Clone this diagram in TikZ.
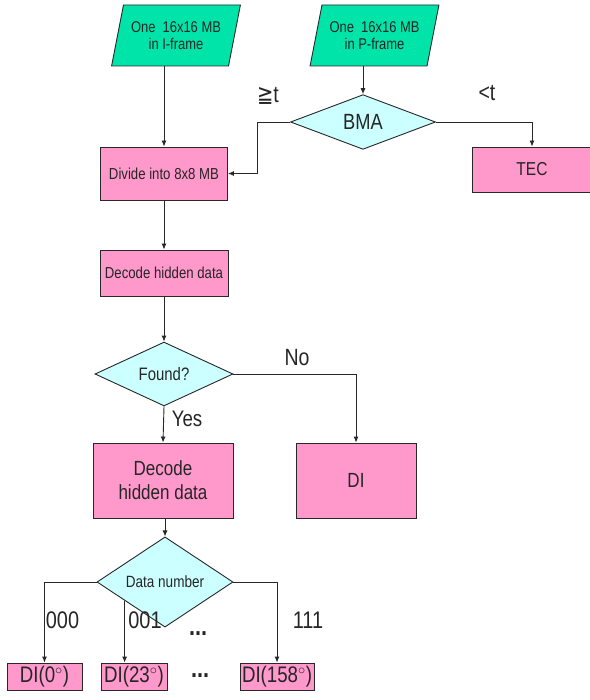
\documentclass[tikz,border=0pt]{standalone}
\usepackage{fontspec}
\setmainfont{Liberation Sans}[FakeStretch=0.83]
\newfontfamily\symfont{DejaVu Sans}[FakeStretch=0.83]
\usetikzlibrary{shapes.geometric,arrows.meta,calc}
\definecolor{pgreen}{RGB}{0,228,170}
\definecolor{dcyan}{RGB}{204,255,255}
\definecolor{bpink}{RGB}{255,153,204}
\definecolor{edge}{RGB}{40,40,40}
\newcommand{\fs}[1]{\fontsize{#1}{#1}\selectfont}
\tikzset{
  base/.style={draw=edge, line width=0.9pt, inner sep=0pt, align=center, text=black!85},
  para/.style={base, fill=pgreen, trapezium, trapezium left angle=70, trapezium right angle=110,
     trapezium stretches=true, minimum width=129pt, minimum height=61pt, font=\fontsize{15.6}{17}\selectfont},
  dia/.style={base, fill=dcyan, diamond},
  boxp/.style={base, fill=bpink, rectangle},
  arr/.style={draw=edge, line width=0.9pt, -{Latex[length=6pt,width=5pt]}},
  lab/.style={inner sep=0pt, text=black!85, font=\fs{23.5}},
}
\begin{document}
\begin{tikzpicture}[x=1pt,y=-1pt]
\useasboundingbox (0,0) rectangle (589,700);
\fill[white] (0,0) rectangle (589,700);

\node[para] (iframe) at (176,35.5) {One \ 16x16 MB\\in I-frame};
\node[para] (pframe) at (374.5,35.5) {One \ 16x16 MB\\in P-frame};

\node[dia, minimum width=145pt, minimum height=50pt, font=\fs{22}] (bma) at (363,122) {BMA};
\node[boxp, minimum width=120pt, minimum height=45pt, font=\fs{18.7}] (tec) at (532,169.5) {TEC};

\node[boxp, minimum width=127pt, minimum height=53pt, font=\fs{15.9}] (divide) at (164,173.5) {Divide into 8x8 MB};
\node[boxp, minimum width=128pt, minimum height=46pt, font=\fs{15.9}] (dec1) at (164,273) {Decode hidden data};

\node[dia, minimum width=138pt, minimum height=52pt, font=\fs{18}] (found) at (164,374) {Found?};

\node[boxp, minimum width=140pt, minimum height=75pt, font=\fontsize{20.5}{24}\selectfont] (dec2) at (163,480.5) {Decode\\hidden data};
\node[boxp, minimum width=120pt, minimum height=75pt, font=\fs{20.5}] (di) at (356,480.5) {DI};

\node[dia, minimum width=136pt, minimum height=52pt, font=\fs{16.3}] (datanum) at (165,582) {Data number};

\node[boxp, minimum width=75pt, minimum height=27pt, font=\fs{22.5}] (di0) at (44.5,676.5) {DI(0$^{\circ}$)};
\node[boxp, minimum width=66pt, minimum height=27pt, font=\fs{22.5}] (di23) at (134,676.5) {DI(23$^{\circ}$)};
\node[boxp, minimum width=74pt, minimum height=27pt, font=\fs{22.5}] (di158) at (277,676.5) {DI(158$^{\circ}$)};

% connectors
\draw[arr] (iframe.bottom side -| divide.north) -- (divide.north);
\draw[arr] (pframe.bottom side -| bma.north) -- (bma.north);
\draw[arr] (bma.west) -- ++(-33,0) |- (divide.east);
\draw[arr] (bma.east) -| (tec.north);
\draw[arr] (divide.south) -- (dec1.north);
\draw[arr] (dec1.south) -- (found.north);
\draw[arr] (found.east) -| (di.north);
\draw[arr] (found.south) -- (dec2.north);
\draw[arr] (dec2.south -| datanum.north) -- (datanum.north);
\draw[arr] (datanum.west) -| (di0.north);
\coordinate (mid) at ($(datanum.west)!0.41!(datanum.south)$);
\draw[arr] (mid) -- (mid |- di23.north);
\draw[arr] (datanum.east) -| (di158.north);

% labels
\node[lab] (lge) at (268,96) {{\symfont ≧}t};
\node[lab] (llt) at (487,93) {<t};
\node[lab] (lno) at (297,358) {No};
\node[lab, font=\fs{22.5}] (lyes) at (187,419) {Yes};
\node[lab, font=\fs{24}] (l000) at (62.5,620) {000};
\node[lab, font=\fs{24}] (l001) at (145,620) {001};
\node[lab, font=\fs{24}] (l111) at (308,620) {111};
\node[lab, font=\bfseries\fs{26}] (dots1) at (198,634) {...};
\node[lab, font=\bfseries\fs{26}] (dots2) at (200,676) {...};
\end{tikzpicture}
\end{document}
